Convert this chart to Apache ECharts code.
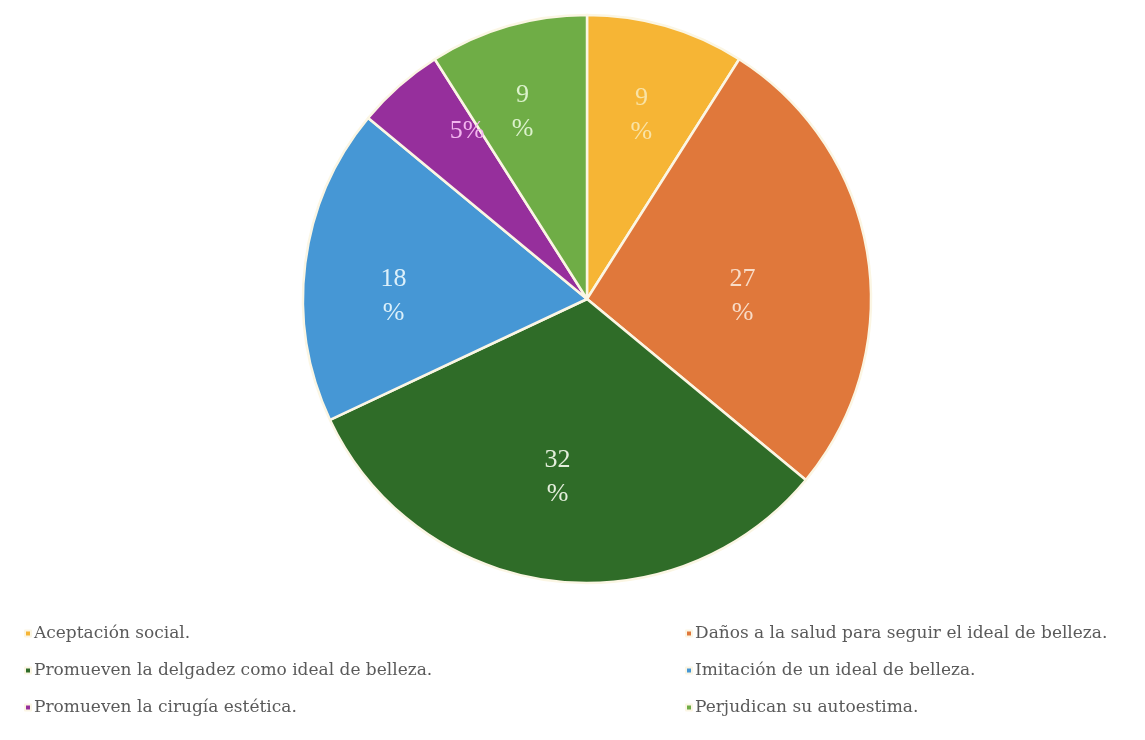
<!DOCTYPE html>
<html>
<head>
<meta charset="utf-8">
<script src="https://cdn.jsdelivr.net/npm/echarts@6/dist/echarts.min.js"></script>
<style>
  html, body { margin: 0; padding: 0; background: #ffffff; }
  #chart { width: 1145px; height: 740px; }
</style>
</head>
<body>
<div id="chart"></div>
<script>
// Slices, clockwise from 12 o'clock
const categories = [
  'Aceptación social.',
  'Daños a la salud para seguir el ideal de belleza.',
  'Promueven la delgadez como ideal de belleza.',
  'Imitación de un ideal de belleza.',
  'Promueven la cirugía estética.',
  'Perjudican su autoestima.'
];
const percentages = [9, 27, 32, 18, 5, 9];

const sliceColors = ['#f6b535', '#e0783b', '#2f6c28', '#4697d5', '#962f9c', '#6fad46'];
const labelColors = ['#f9e3a6', '#f8dcc8', '#e4eedc', '#dcf0fa', '#f3b5ef', '#dcf2cc'];

// Fine placement of each percentage label, in pixels
const labelNudge = [[0, 3], [-37, 28], [-5, -15], [0, 22], [9, -22], [-10, 0]];

// Legend columns
const legendLeft = [categories[0], categories[2], categories[4]];
const legendRight = [categories[1], categories[3], categories[5]];

const serif = '"Liberation Serif", "DejaVu Serif", serif';
const legendFont = '"DejaVu Serif", "Liberation Serif", serif';

const sliceData = categories.map((name, i) => ({
  name: name,
  value: percentages[i],
  itemStyle: { color: sliceColors[i] }
}));

const labelData = categories.map((name, i) => ({
  name: name,
  value: percentages[i],
  label: { color: labelColors[i] }
}));

const center = [587, 299];
const R = 284;

const chart = echarts.init(document.getElementById('chart'), null, { renderer: 'canvas' });

const legendBase = {
  orient: 'vertical',
  top: 620,
  itemWidth: 6,
  itemHeight: 6,
  itemGap: 20,
  icon: 'rect',
  selectedMode: false,
  textStyle: { fontFamily: legendFont, fontSize: 17, color: '#5a5a5a', padding: [0, 0, 0, -2] }
};

chart.setOption({
  backgroundColor: '#ffffff',
  animation: false,
  legend: [
    Object.assign({}, legendBase, { left: 19, data: legendLeft }),
    Object.assign({}, legendBase, { left: 680, data: legendRight })
  ],
  series: [
    {
      type: 'pie',
      center: center,
      radius: [0, R],
      startAngle: 90,
      clockwise: true,
      silent: true,
      label: { show: false },
      labelLine: { show: false },
      itemStyle: { borderColor: '#fbf6e4', borderWidth: 2.5 },
      data: sliceData
    },
    {
      // Percentage labels, placed partway out along each slice
      type: 'pie',
      center: center,
      radius: [100, R],
      startAngle: 90,
      clockwise: true,
      silent: true,
      legendHoverLink: false,
      itemStyle: { color: 'rgba(0,0,0,0)', borderWidth: 0 },
      label: {
        show: true,
        position: 'inside',
        fontFamily: serif,
        fontSize: 26,
        lineHeight: 34,
        formatter: p => p.value + (p.value < 6 ? '%' : '\n%')
      },
      labelLayout: p => ({ dx: labelNudge[p.dataIndex][0], dy: labelNudge[p.dataIndex][1] }),
      labelLine: { show: false },
      data: labelData
    }
  ]
});
</script>
</body>
</html>
